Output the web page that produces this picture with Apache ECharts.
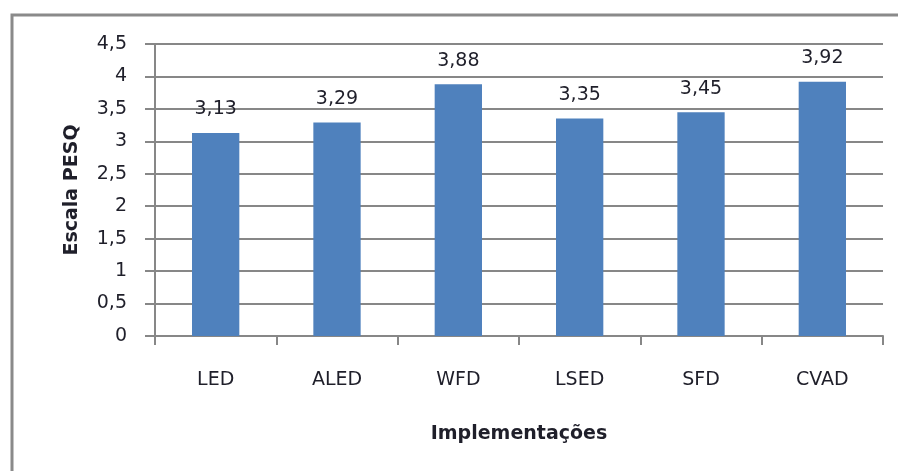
<!DOCTYPE html>
<html>
<head>
<meta charset="utf-8">
<script src="https://cdn.jsdelivr.net/npm/echarts@6/dist/echarts.min.js"></script>
<style>
  html, body { margin: 0; padding: 0; background: #fff; }
  #chart { width: 898px; height: 471px; }
</style>
</head>
<body>
<div id="chart"></div>
<script>
// Average PESQ score for each implementation
const categories = ['LED', 'ALED', 'WFD', 'LSED', 'SFD', 'CVAD'];
const pesqScores = [3.13, 3.29, 3.88, 3.35, 3.45, 3.92];
const yTicks = [0, 0.5, 1, 1.5, 2, 2.5, 3, 3.5, 4, 4.5];

const FONT = '"DejaVu Sans", Verdana, sans-serif';
const GRAY = '#878787';
const TEXT = '#1f1f2a';
const comma = v => String(v).replace('.', ',');

const chart = echarts.init(document.getElementById('chart'), null, { renderer: 'canvas' });

chart.setOption({
  backgroundColor: '#ffffff',
  animation: false,
  graphic: [{
    type: 'rect',
    shape: { x: 12, y: 15, width: 920, height: 500 },
    style: { fill: 'none', stroke: '#8a8a8a', lineWidth: 3 },
    silent: true
  }],
  grid: { left: 155, right: 15, top: 44, bottom: 135 },
  xAxis: {
    type: 'category',
    data: categories,
    boundaryGap: true,
    name: 'Implementações',
    nameLocation: 'middle',
    nameGap: 89,
    nameTextStyle: { fontFamily: FONT, fontSize: 19, fontWeight: 'bold', color: TEXT },
    axisLine: { lineStyle: { color: GRAY, width: 2 } },
    axisTick: { show: true, length: 9, lineStyle: { color: GRAY, width: 2 } },
    axisLabel: { fontFamily: FONT, fontSize: 19, color: TEXT, margin: 35 }
  },
  yAxis: {
    type: 'value',
    min: yTicks[0],
    max: yTicks[yTicks.length - 1],
    interval: 0.5,
    name: 'Escala PESQ',
    nameLocation: 'middle',
    nameGap: 73,
    nameTextStyle: { fontFamily: FONT, fontSize: 19, fontWeight: 'bold', color: TEXT },
    axisLine: { show: true, lineStyle: { color: GRAY, width: 2 } },
    axisTick: { show: true, length: 10, lineStyle: { color: GRAY, width: 2 } },
    splitLine: { lineStyle: { color: GRAY, width: 2 } },
    axisLabel: { fontFamily: FONT, fontSize: 19, color: TEXT, margin: 28, formatter: comma }
  },
  series: [{
    type: 'bar',
    data: pesqScores,
    barWidth: '39%',
    itemStyle: { color: '#4f81bd' },
    label: {
      show: true,
      position: 'top',
      distance: 14,
      fontFamily: FONT,
      fontSize: 19,
      color: TEXT,
      formatter: p => comma(p.value)
    }
  }]
});
</script>
</body>
</html>
